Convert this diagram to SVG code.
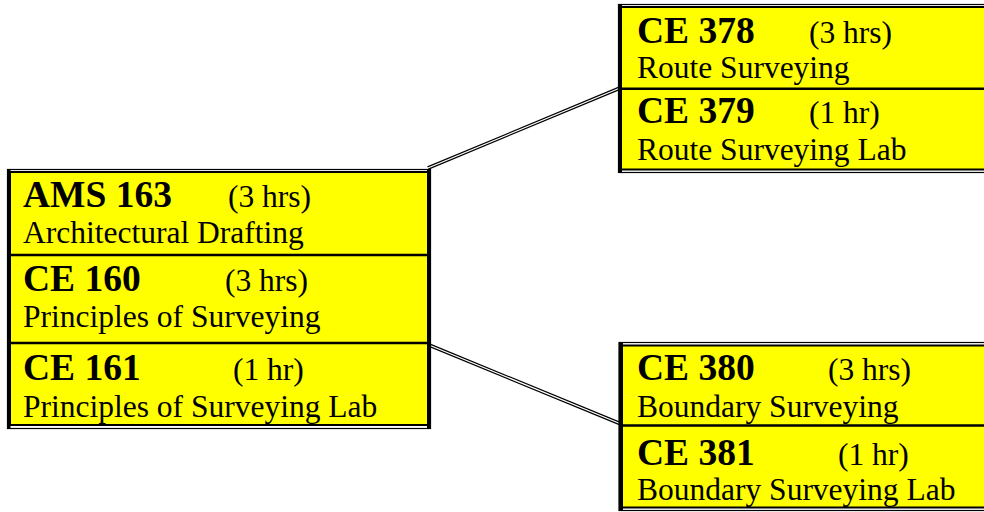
<svg xmlns="http://www.w3.org/2000/svg" width="984" height="512" viewBox="0 0 984 512">
<style>
.b{font-family:"Liberation Serif","Times New Roman",serif;font-weight:bold;font-size:37.5px;fill:#000}
.r{font-family:"Liberation Serif","Times New Roman",serif;font-size:31.5px;fill:#000}
.fill{fill:#ffff00;stroke:#000;stroke-width:2}
.outer{fill:none;stroke:#000;stroke-width:1.2}
.side{fill:#000}
.div{stroke:#000;stroke-width:2.5}
.cb{fill:none;stroke:#000;stroke-width:3.6}
.cw{fill:none;stroke:#fff;stroke-width:1.2}
</style>
<rect width="984" height="512" fill="#fff"/>
<g id="connectors">
<line class="cb" x1="428" y1="168" x2="620" y2="88"/>
<line class="cw" x1="428" y1="168" x2="620" y2="88"/>
<line class="cb" x1="429" y1="345" x2="621" y2="424"/>
<line class="cw" x1="429" y1="345" x2="621" y2="424"/>
</g>
<g id="box-left">
<rect class="outer" x="7.5" y="169.5" width="423" height="259"/>
<rect class="fill" x="10" y="172" width="418" height="253"/>
<rect class="side" x="7" y="169" width="3.5" height="260"/>
<rect class="side" x="427" y="169" width="4" height="260"/>
<line class="div" x1="10" y1="255" x2="428" y2="255"/>
<line class="div" x1="10" y1="343" x2="428" y2="343"/>
<g id="ams163">
<text class="b" x="23" y="207">AMS 163</text>
<text class="r" x="228" y="207">(3 hrs)</text>
<text class="r" x="23" y="243">Architectural Drafting</text>
</g>
<g id="ce160">
<text class="b" x="23" y="291">CE 160</text>
<text class="r" x="225" y="291">(3 hrs)</text>
<text class="r" x="23" y="327">Principles of Surveying</text>
</g>
<g id="ce161">
<text class="b" x="23" y="380">CE 161</text>
<text class="r" x="233" y="380">(1 hr)</text>
<text class="r" x="23" y="417">Principles of Surveying Lab</text>
</g>
</g>
<g id="box-route">
<rect class="outer" x="618.5" y="4.5" width="400" height="168"/>
<rect class="fill" x="621" y="7" width="400" height="162.5"/>
<rect class="side" x="618" y="4" width="4" height="169"/>
<line class="div" x1="621" y1="88.7" x2="984" y2="88.7"/>
<g id="ce378">
<text class="b" x="637" y="43">CE 378</text>
<text class="r" x="809" y="43">(3 hrs)</text>
<text class="r" x="637" y="78">Route Surveying</text>
</g>
<g id="ce379">
<text class="b" x="637" y="123">CE 379</text>
<text class="r" x="809" y="123">(1 hr)</text>
<text class="r" x="637" y="160">Route Surveying Lab</text>
</g>
</g>
<g id="box-boundary">
<rect class="outer" x="619" y="342.5" width="400" height="168"/>
<rect class="fill" x="621.5" y="345.5" width="400" height="162"/>
<rect class="side" x="619" y="342" width="4" height="169"/>
<line class="div" x1="621" y1="425.5" x2="984" y2="425.5"/>
<g id="ce380">
<text class="b" x="637" y="380">CE 380</text>
<text class="r" x="828" y="380">(3 hrs)</text>
<text class="r" x="637" y="417">Boundary Surveying</text>
</g>
<g id="ce381">
<text class="b" x="637" y="465">CE 381</text>
<text class="r" x="838" y="465">(1 hr)</text>
<text class="r" x="637" y="500">Boundary Surveying Lab</text>
</g>
</g>
</svg>
